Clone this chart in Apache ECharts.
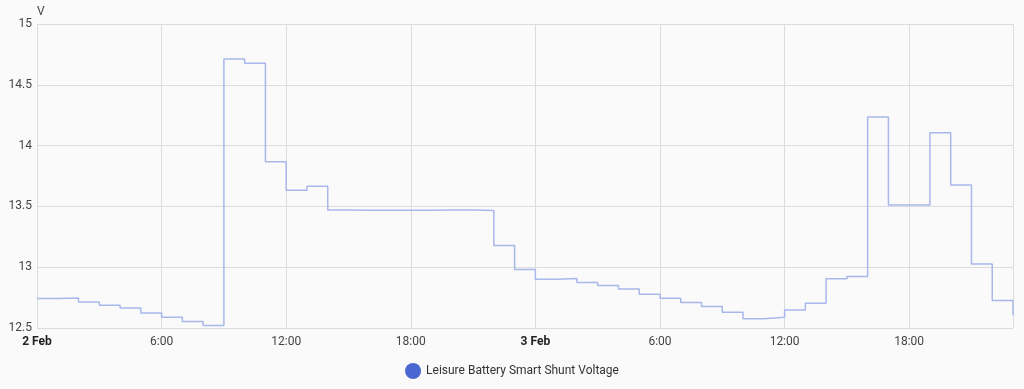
<!DOCTYPE html>
<html>
<head>
<meta charset="utf-8">
<script src="https://cdn.jsdelivr.net/npm/echarts@6/dist/echarts.min.js"></script>
<style>
html,body{margin:0;padding:0;background:#fafafa;}
#chart{width:1024px;height:389px;}
</style>
</head>
<body>
<div id="chart"></div>
<script>
// hours since 2 Feb 00:00
const hours = [0,1,2,3,4,5,6,7,8,9,10,11,12,13,14,15,16,17,18,19,20,21,22,23,24,25,26,27,28,29,30,31,32,33,34,35,36,37,38,39,40,41,42,43,44,45,46,47];
const voltage = [12.742,12.747,12.714,12.687,12.665,12.624,12.588,12.553,12.52,14.713,14.678,13.867,13.632,13.665,13.47,13.469,13.468,13.468,13.469,13.47,13.47,13.467,13.179,12.981,12.90,12.907,12.874,12.849,12.821,12.778,12.745,12.709,12.676,12.629,12.577,12.588,12.648,12.703,12.904,12.923,14.236,13.511,13.511,14.106,13.675,13.027,12.726,12.605];
const dayLabels = ['2 Feb','3 Feb'];
const seriesName = 'Leisure Battery Smart Shunt Voltage';
const yUnit = 'V';

const chart = echarts.init(document.getElementById('chart'));
chart.setOption({
  backgroundColor:'#fafafa',
  animation:false,
  textStyle:{fontFamily:'Roboto'},
  grid:{left:37,right:11,top:24,bottom:61,containLabel:false},
  legend:{
    bottom:5,left:'center',
    icon:'circle',itemWidth:16,itemHeight:16,itemGap:10,itemTextGap:4,
    textStyle:{fontSize:12,color:'#333',fontFamily:'Roboto'},
    data:[seriesName]
  },
  xAxis:{
    type:'value',min:0,max:47,interval:6,
    axisLine:{show:false},axisTick:{show:false},
    splitLine:{show:true,lineStyle:{color:'#dcdcdc',width:1}},
    axisLabel:{
      margin:8,fontSize:12,color:'#444',
      formatter:function(v){
        if(v%6!==0) return '';
        if(v%24===0) return '{b|'+dayLabels[v/24]+'}';
        return (v%24)+':00';
      },
      rich:{b:{fontWeight:'bold',fontSize:12,color:'#222'}}
    }
  },
  yAxis:{
    type:'value',min:12.5,max:15,interval:0.5,
    name:yUnit,nameLocation:'end',nameGap:5,
    nameTextStyle:{align:'left',fontSize:12,color:'#444'},
    axisLine:{show:false},axisTick:{show:false},
    splitLine:{show:true,lineStyle:{color:'#dcdcdc',width:1}},
    axisLabel:{margin:5,fontSize:12,color:'#444'}
  },
  series:[{
    name:seriesName,type:'line',step:'end',
    data:hours.map((h,i)=>[h,voltage[i]]),
    showSymbol:false,
    color:'#4a67d1',
    lineStyle:{color:'#a9b8ec',width:1.5}
  }]
});
</script>
</body>
</html>
